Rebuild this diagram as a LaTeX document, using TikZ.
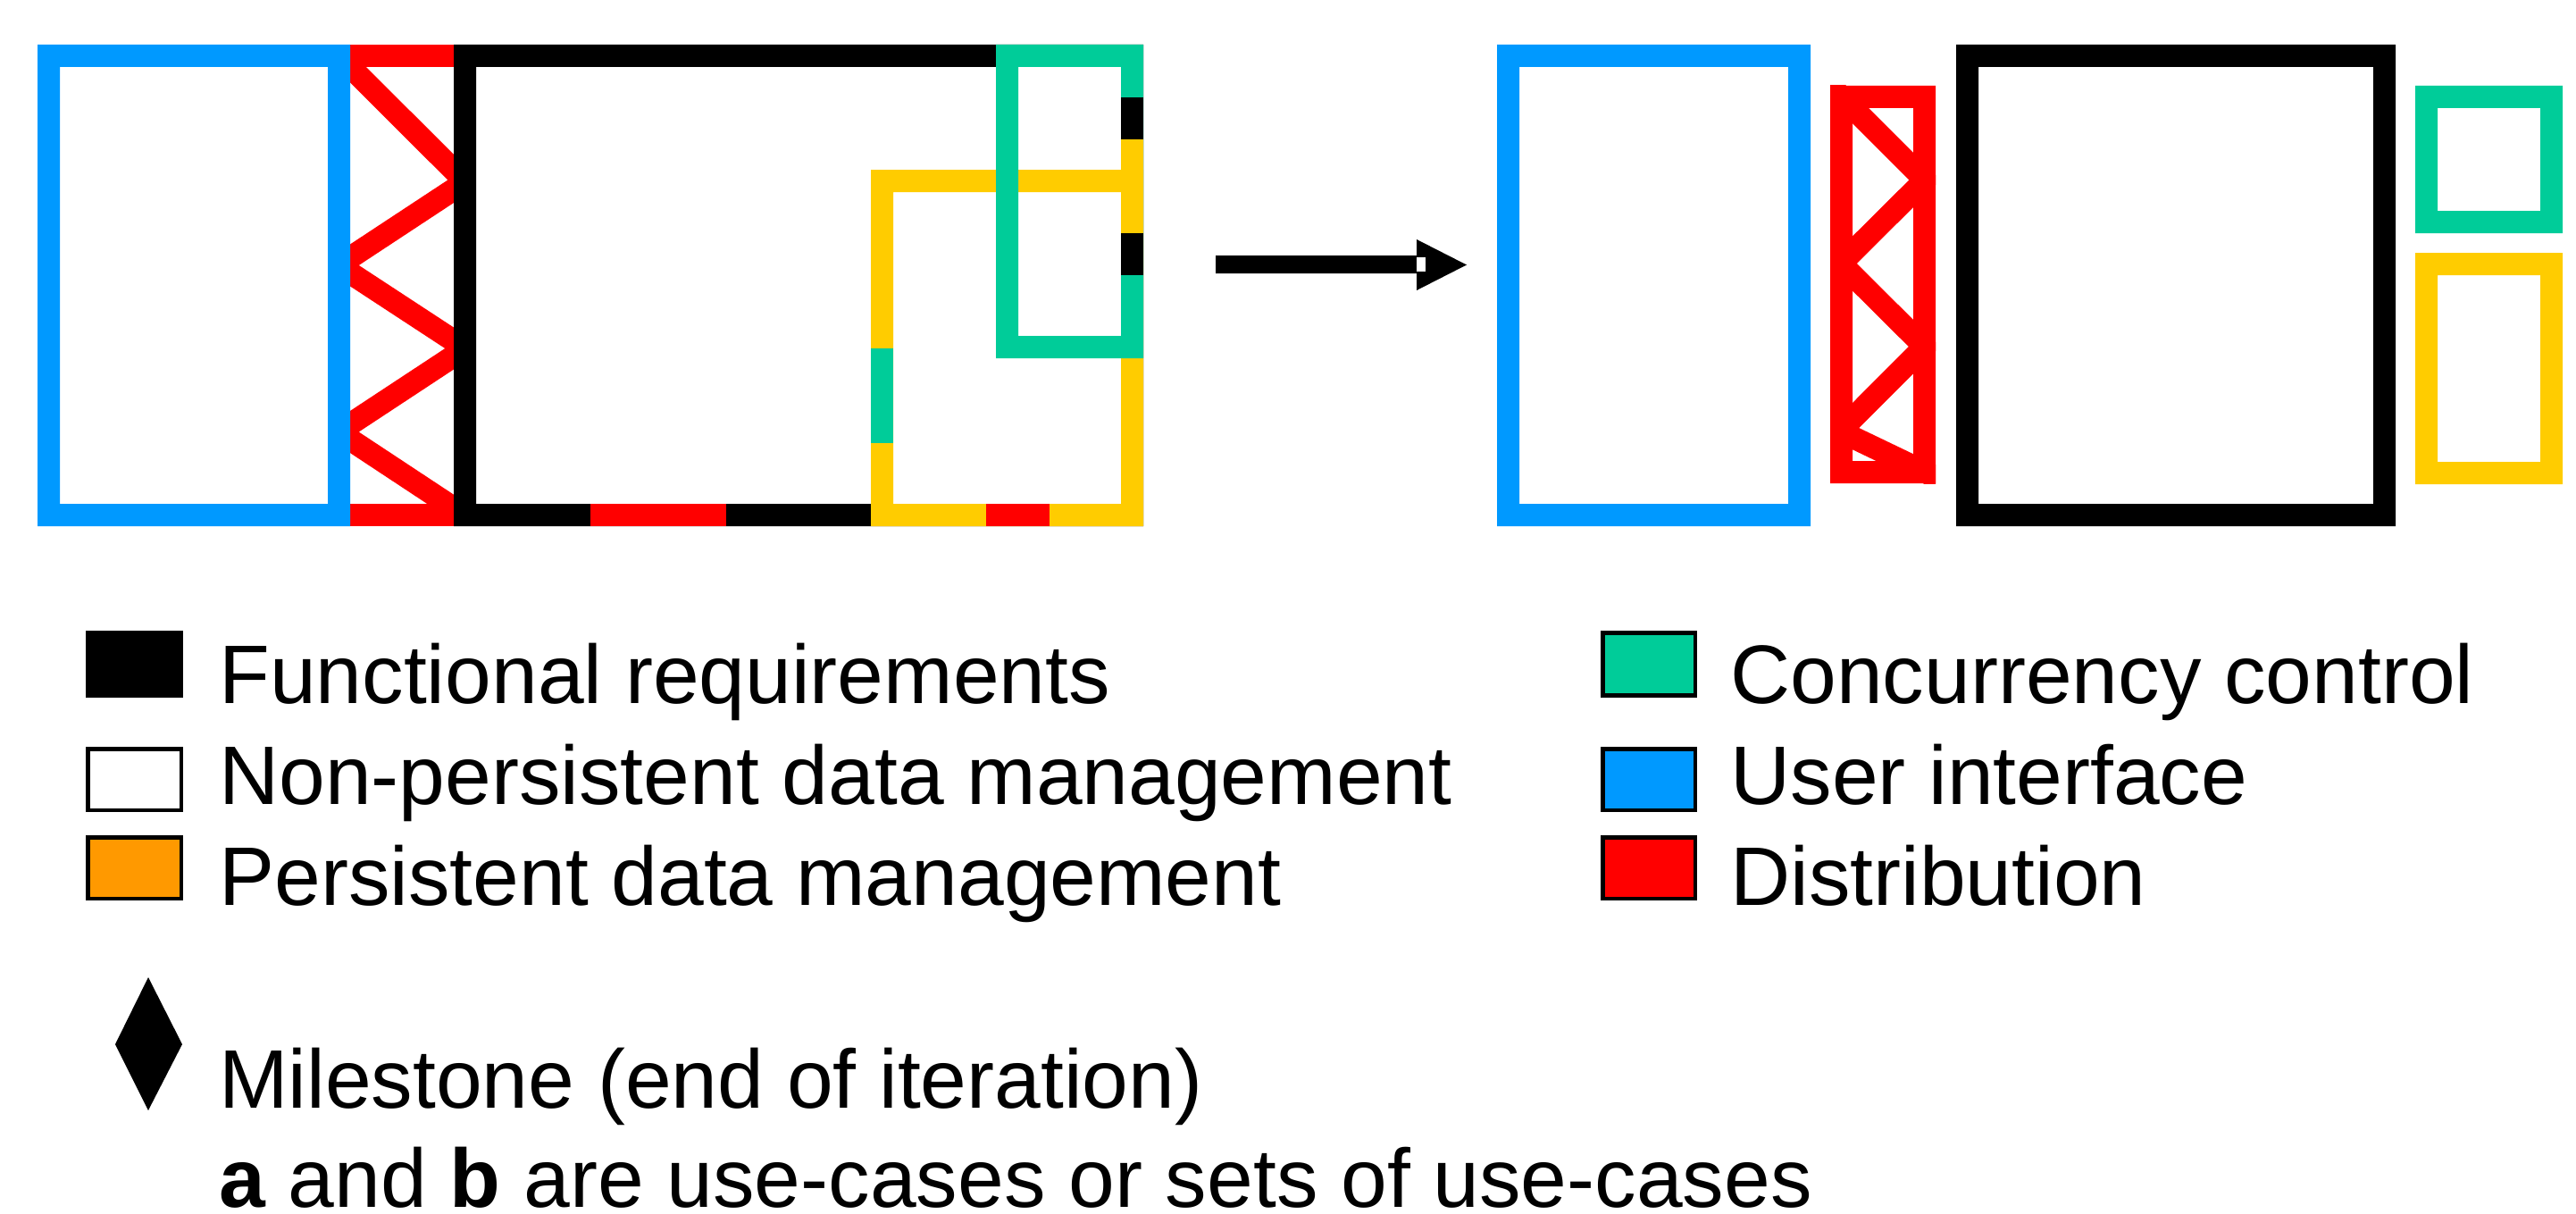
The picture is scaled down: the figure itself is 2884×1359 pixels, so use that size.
\documentclass[tikz,border=0pt]{standalone}
\usepackage{fontspec}
\setmainfont{Liberation Sans}
\definecolor{uiblue}{HTML}{0099FF}
\definecolor{ccgreen}{HTML}{00CC99}
\definecolor{pdyellow}{HTML}{FFCC00}
\definecolor{pdorange}{HTML}{FF9900}
\definecolor{distred}{HTML}{FF0000}
% a thick rectangular frame (25 units wide) given by its outer corners
\newcommand\bandframe[5]{\fill[#1,even odd rule] (#2,#3) rectangle (#4,#5) ({#2+25},{#3+25}) rectangle ({#4-25},{#5-25});}

\begin{document}
\begin{tikzpicture}[x=0.5pt,y=-0.5pt,
  zig/.style={draw=distred,line width=12.5pt,line join=miter},
  legbox/.style={draw=black,line width=2.25pt},
  legtext/.style={anchor=base west,inner sep=0pt,font=\fontsize{46.5pt}{56pt}\selectfont},
]
\useasboundingbox (0,0) rectangle (2884,1359);

% ---------- tangled architecture (left) ----------
\begin{scope}
  \clip (392,50) rectangle (508,589);
  \draw[zig] (330,13) -- (521,203.5) -- (379,297) -- (521,390) -- (379,483.5) -- (560,603);
\end{scope}
\fill[distred] (392,50) rectangle (508,75);
\fill[distred] (392,564) rectangle (508,589);
\bandframe{uiblue}{42}{50}{392}{589}
\bandframe{black}{508}{50}{1280}{589}
\bandframe{pdyellow}{975}{190}{1280}{589}
\bandframe{ccgreen}{1115}{50}{1280}{401}
% pieces of other concerns along the shared edges
\fill[black]    (1255,109) rectangle (1280,156);
\fill[pdyellow] (1255,156) rectangle (1280,261);
\fill[black]    (1255,261) rectangle (1280,308);
\fill[distred]  (661,564)  rectangle (813,589);
\fill[distred]  (1104,564) rectangle (1175,589);
\fill[ccgreen]  (975,390)  rectangle (1000,495.5);

% ---------- arrow ----------
\fill[black] (1361,286) -- (1586,286) -- (1586,268) -- (1642,296.5)
  -- (1586,325) -- (1586,306) -- (1361,306) -- cycle;
\fill[white] (1586,288) rectangle (1596,304);

% ---------- separated concerns (right) ----------
\bandframe{uiblue}{1676}{50}{2027}{589}
\begin{scope}
  \clip (2049,96) rectangle (2167,541);
  \draw[zig] (2040,86.5) -- (2155,201.5) -- (2061,295) -- (2154.5,388) -- (2060,482.7) -- (2180,540.3);
\end{scope}
\bandframe{distred}{2049}{96}{2167}{541}
\bandframe{black}{2190}{50}{2682}{589}
\bandframe{ccgreen}{2704}{96}{2869}{261}
\bandframe{pdyellow}{2704}{283}{2869}{542}

% ---------- legend ----------
\filldraw[legbox,fill=black]    (98.25,708.25) rectangle (202.75,778.25);
\filldraw[legbox,fill=white]    (98.25,838.25) rectangle (202.75,906.75);
\filldraw[legbox,fill=pdorange] (98.25,937.25) rectangle (202.75,1005.75);
\filldraw[legbox,fill=ccgreen]  (1794.25,708.25) rectangle (1897.75,778.25);
\filldraw[legbox,fill=uiblue]   (1794.25,838.25) rectangle (1897.75,906.75);
\filldraw[legbox,fill=distred]  (1794.25,937.25) rectangle (1897.75,1005.75);

\node[legtext] (lfunc) at (245,787.5)  {Functional requirements};
\node[legtext] (lnonp) at (245,900.5)  {Non-persistent data management};
\node[legtext] (lpers) at (245,1013)   {Persistent data management};
\node[legtext] (lconc) at (1937,787.5) {Concurrency control};
\node[legtext] (luser) at (1937,900.5) {User interface};
\node[legtext] (ldist) at (1937,1013)  {Distribution};

\fill[black] (166,1094) -- (204,1169) -- (166,1243) -- (129,1169) -- cycle;
\node[legtext] (lmile) at (245,1240) {Milestone (end of iteration)};
\node[legtext] (lcase) at (245,1351) {{\bfseries a} and {\bfseries b} are use-cases or sets of use-cases};
\end{tikzpicture}
\end{document}
